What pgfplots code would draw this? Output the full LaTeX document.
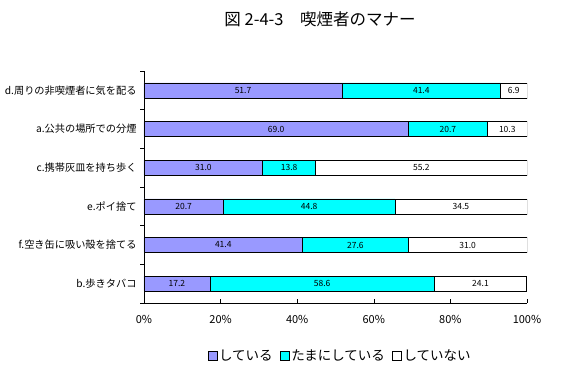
\documentclass[border=0pt]{standalone}
\usepackage{fontspec}
\setmainfont{Noto Sans CJK JP}
\usepackage{pgfplots}
\usepackage{pgfplotstable}
\pgfplotsset{compat=1.18}
\definecolor{cpurp}{RGB}{153,153,255}
\definecolor{ccyan}{RGB}{0,255,255}
% y: 0=b (bottom) ... 5=d (top)
\pgfplotstableread{
y v
0 17.2
1 41.4
2 20.7
3 31.0
4 69.0
5 51.7
}\tA
\pgfplotstableread{
y v
0 58.6
1 27.6
2 44.8
3 13.8
4 20.7
5 41.4
}\tB
\pgfplotstableread{
y v
0 24.1
1 31.0
2 34.5
3 55.2
4 10.3
5 6.9
}\tC
% label positions (segment centres) and texts
\pgfplotstableread{
y xc t
5 25.85 51.7
5 72.40 41.4
5 96.55 6.9
4 34.50 69.0
4 79.35 20.7
4 94.85 10.3
3 15.50 31.0
3 37.90 13.8
3 72.40 55.2
2 10.35 20.7
2 43.10 44.8
2 82.75 34.5
1 20.70 41.4
1 55.20 27.6
1 84.50 31.0
0 8.60 17.2
0 46.50 58.6
0 87.85 24.1
}\tL
\begin{document}
\begin{tikzpicture}
\useasboundingbox (0pt,0pt) rectangle (565pt,380pt);
\node[font=\fontsize{16.5}{19}\selectfont] at (320pt,361pt) {図 2-4-3　喫煙者のマナー};
\begin{axis}[
  at={(144pt,77pt)}, anchor=south west,
  scale only axis, width=383pt, height=232pt,
  xbar stacked, bar width=15pt,
  xmin=0, xmax=100, ymin=-0.5, ymax=5.5,
  axis x line*=bottom, axis y line*=left,
  axis line style={-, black, line width=0.6pt},
  /pgf/number format/assume math mode=true,
  xtick={0,20,...,100},
  xticklabel={\pgfmathprintnumber{\tick}\%},
  xtick align=inside,
  xticklabel style={font=\fontsize{11}{13}\selectfont, yshift=-9pt},
  ytick={0,...,5},
  yticklabels={b.歩きタバコ, f.空き缶に吸い殻を捨てる, e.ポイ捨て, c.携帯灰皿を持ち歩く, a.公共の場所での分煙, d.周りの非喫煙者に気を配る},
  yticklabel style={font=\fontsize{10.2}{12}\selectfont},
  major y tick style={draw=none},
  minor ytick={-0.5,0.5,...,5.5},
  ytick align=outside,
  minor tick length=4pt, major tick length=4pt,
  tick style={black, line width=0.6pt},
  legend style={at={(0.512,-0.228)}, anchor=center, draw=none, legend columns=3,
    font=\fontsize{13.5}{15}\selectfont,
    /tikz/every even column/.append style={column sep=5pt}},
]
\addplot[fill=cpurp, draw=black, line width=0.6pt,
  legend image code/.code={\draw[fill=cpurp,draw=black] (0pt,-4.5pt) rectangle (9pt,4.5pt);}]
  table[x=v,y=y]{\tA};
\addlegendentry{している}
\addplot[fill=ccyan, draw=black, line width=0.6pt,
  legend image code/.code={\draw[fill=ccyan,draw=black] (0pt,-4.5pt) rectangle (9pt,4.5pt);}]
  table[x=v,y=y]{\tB};
\addlegendentry{たまにしている}
\addplot[fill=white, draw=black, line width=0.6pt,
  legend image code/.code={\draw[fill=white,draw=black] (0pt,-4.5pt) rectangle (9pt,4.5pt);}]
  table[x=v,y=y]{\tC};
\addlegendentry{していない}
\end{axis}
\begin{axis}[
  at={(144pt,77pt)}, anchor=south west,
  scale only axis, width=383pt, height=232pt,
  xmin=0, xmax=100, ymin=-0.5, ymax=5.5,
  hide axis,
]
\addplot[only marks, mark=none, point meta=explicit symbolic,
  nodes near coords, nodes near coords align={center},
  every node near coord/.append style={font=\fontsize{8.5}{10}\selectfont, anchor=center, inner sep=0pt}]
  table[x=xc,y=y,meta=t]{\tL};
\end{axis}
\end{tikzpicture}
\end{document}
